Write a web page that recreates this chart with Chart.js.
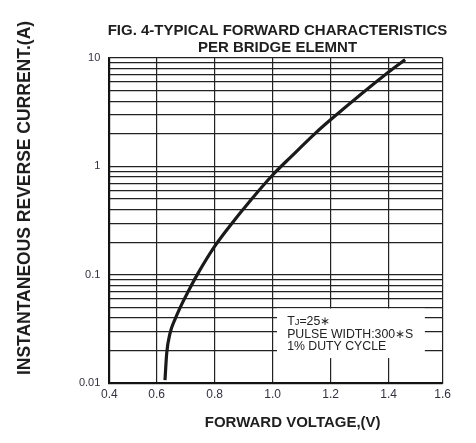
<!DOCTYPE html>
<html><head><meta charset="utf-8">
<script src="https://cdn.jsdelivr.net/npm/chart.js@4"></script>
<style>html,body{margin:0;padding:0;background:#fff;} #wrap{width:476px;height:443px;position:relative;}</style>
</head><body><div id="wrap"><canvas id="c"></canvas></div>
<script>
// ---- data ----
const voltage = [0.6286, 0.6345, 0.6459, 0.6631, 0.6862, 0.709, 0.738, 0.7987, 0.853, 0.9277, 1.000, 1.0657, 1.146, 1.2037, 1.400, 1.457];
const current = [0.0107, 0.0189, 0.0289, 0.0389, 0.0535, 0.0705, 0.0984, 0.181, 0.284, 0.501, 0.834, 1.245, 2.01, 2.75, 7.43, 9.66];
const xTickValues = [0.4365, 0.6, 0.8, 1.0, 1.2, 1.4, 1.5866];
const xTickLabels = ['0.4', '0.6', '0.8', '1.0', '1.2', '1.4', '1.6'];
const yDecades = [0.01, 0.1, 1, 10];
const yTickLabels = ['0.01', '0.1', '1', '10'];
const titleLines = ['FIG. 4-TYPICAL FORWARD CHARACTERISTICS', 'PER BRIDGE ELEMNT'];
const xTitle = 'FORWARD VOLTAGE,(V)';
const yTitle = 'INSTANTANEOUS REVERSE CURRENT.(A)';
const noteLines = ['TJ=25∗', 'PULSE WIDTH:300∗S', '1% DUTY CYCLE'];
// note box extent in data units
const noteBoxX = [1.015, 1.525];
const noteBoxY = [0.05, 0.0171];
const noteTextX = 1.05;

const FONT = '"Liberation Sans", Arial, Helvetica, sans-serif';
const INK = '#1e1e1e';

const textPlugin = {
  id: 'texts',
  afterDatasetsDraw(chart) {
    const ctx = chart.ctx, xs = chart.scales.x, ys = chart.scales.y;
    const x0 = xs.getPixelForValue(noteBoxX[0]), x1 = xs.getPixelForValue(noteBoxX[1]);
    const y0 = ys.getPixelForValue(noteBoxY[0]) + 1, y1 = ys.getPixelForValue(noteBoxY[1]);
    ctx.save();
    ctx.fillStyle = '#fff';
    ctx.fillRect(x0, y0, x1 - x0, y1 - y0);
    ctx.fillStyle = '#222';
    ctx.textBaseline = 'alphabetic';
    ctx.textAlign = 'left';
    const tx = xs.getPixelForValue(noteTextX);
    const base = y0 + 16.5;
    const lh = 12.5;
    noteLines.forEach((line, i) => {
      const y = base + i * lh;
      if (i === 0) {
        let x = tx;
        ctx.font = '12.3px ' + FONT;
        ctx.fillText(line[0], x, y); x += ctx.measureText(line[0]).width;
        ctx.font = '9.5px ' + FONT;
        ctx.fillText(line[1], x, y); x += ctx.measureText(line[1]).width;
        ctx.font = '12.3px ' + FONT;
        ctx.fillText(line.slice(2), x, y);
      } else {
        ctx.font = '12.3px ' + FONT;
        ctx.fillText(line, tx, y);
      }
    });
    ctx.restore();
  },
  afterDraw(chart) {
    const ctx = chart.ctx;
    ctx.save();
    ctx.fillStyle = INK;
    ctx.textAlign = 'center';
    ctx.textBaseline = 'middle';
    ctx.font = 'bold 15px ' + FONT;
    ctx.fillText(titleLines[0], 277.5, 31);
    ctx.fillText(titleLines[1], 277.5, 47.5);
    ctx.font = 'bold 15px ' + FONT;
    ctx.fillText(xTitle, 292.7, 422.5);
    ctx.translate(25, 198);
    ctx.rotate(-Math.PI / 2);
    ctx.font = 'bold 17.5px ' + FONT;
    ctx.fillText(yTitle, 0, 0);
    ctx.restore();
  }
};

new Chart(document.getElementById('c'), {
  type: 'line',
  data: {
    datasets: [{
      data: voltage.map((v, i) => ({ x: v, y: current[i] })),
      borderColor: '#1a1a1a',
      borderWidth: 3.2,
      pointRadius: 0,
      cubicInterpolationMode: 'monotone',
      fill: false
    }]
  },
  options: {
    responsive: true,
    maintainAspectRatio: false,
    animation: false,
    devicePixelRatio: 1,
    layout: { padding: { top: 58, right: 33.3, bottom: 0, left: 0 } },
    plugins: { legend: { display: false }, title: { display: false }, tooltip: { enabled: false } },
    scales: {
      x: {
        type: 'linear',
        min: xTickValues[0],
        max: xTickValues[xTickValues.length - 1],
        afterBuildTicks(scale) { scale.ticks = xTickValues.map(v => ({ value: v })); },
        afterFit(scale) { scale.height = 59.7; },
        ticks: {
          autoSkip: false,
          maxRotation: 0,
          padding: 4,
          color: '#333340',
          font: { family: FONT, size: 12 },
          callback(value, index) { return xTickLabels[index]; }
        },
        grid: { color: '#222', lineWidth: 1.2, drawTicks: false },
        border: { display: true, color: '#111', width: 1.8 }
      },
      y: {
        type: 'logarithmic',
        min: yDecades[0],
        max: yDecades[yDecades.length - 1],
        afterBuildTicks(scale) {
          const t = [];
          for (let d = 0; d < yDecades.length - 1; d++) {
            for (let k = 1; k <= 9; k++) t.push({ value: k === 1 ? yDecades[d] : k * yDecades[d] });
          }
          t.push({ value: yDecades[yDecades.length - 1] });
          scale.ticks = t;
        },
        afterFit(scale) { scale.width = 109.3; },
        ticks: {
          autoSkip: false,
          padding: 9,
          color: '#333340',
          font: { family: FONT, size: 11 },
          callback(value) {
            const i = yDecades.indexOf(value);
            return i >= 0 ? yTickLabels[i] : '';
          }
        },
        grid: { color: '#222', lineWidth: 1.2, drawTicks: false },
        border: { display: true, color: '#111', width: 1.8 }
      }
    }
  },
  plugins: [textPlugin]
});
</script>
</body></html>
